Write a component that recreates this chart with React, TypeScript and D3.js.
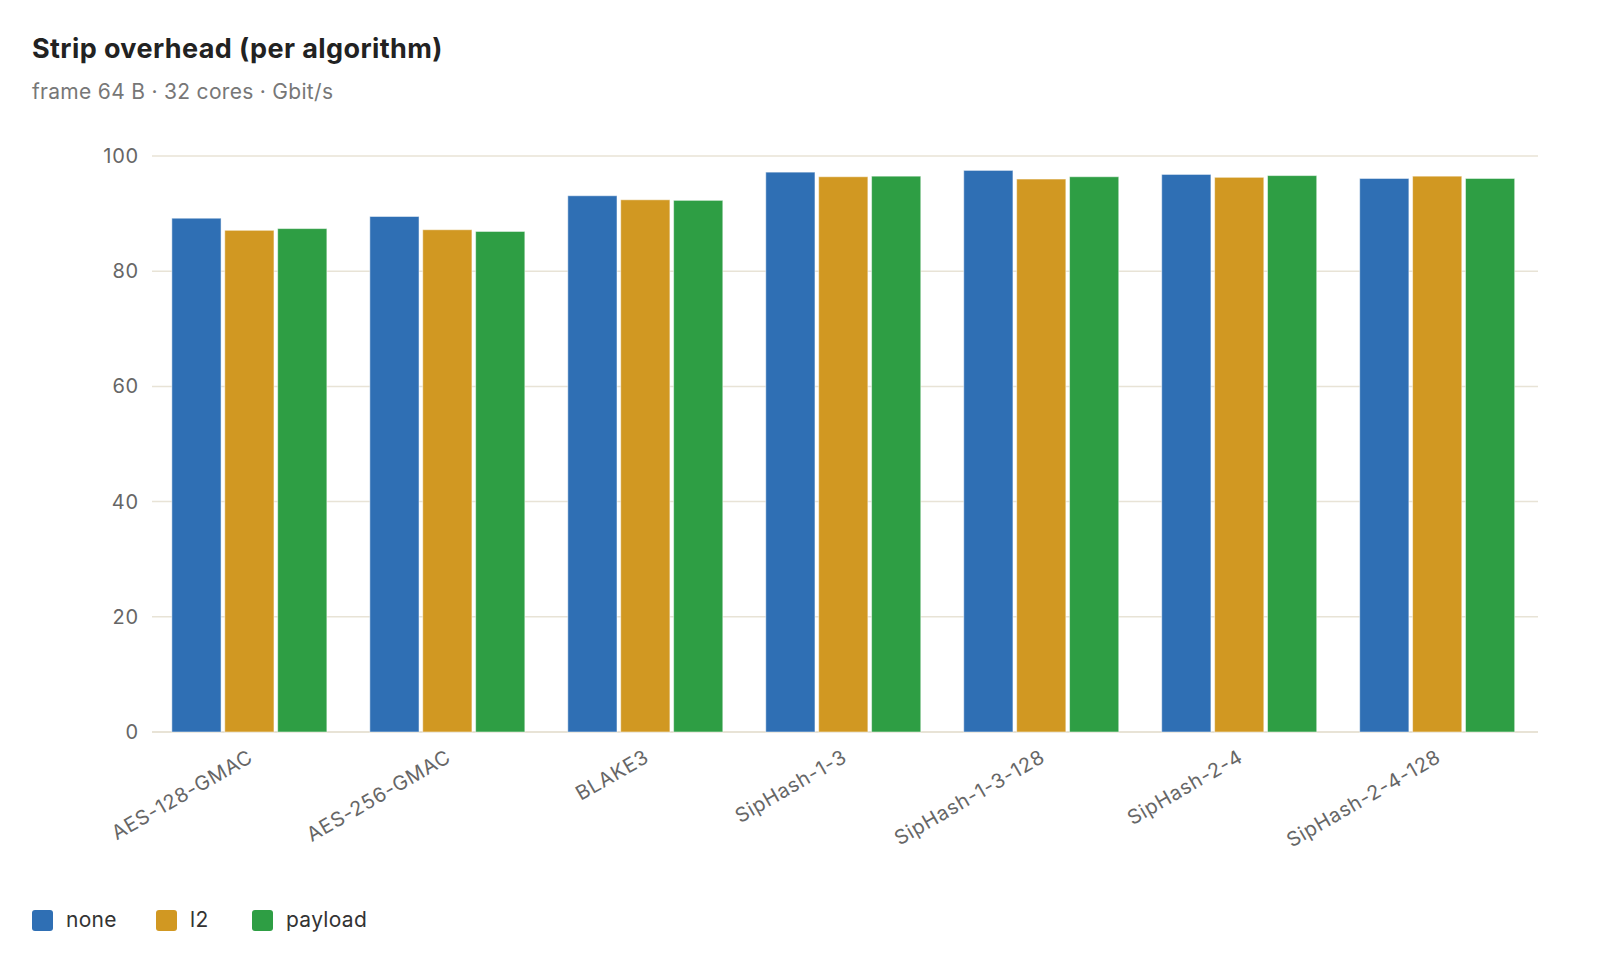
import { useEffect, useRef } from "react";
import * as d3 from "d3";

const algorithms = [
  "AES-128-GMAC",
  "AES-256-GMAC",
  "BLAKE3",
  "SipHash-1-3",
  "SipHash-1-3-128",
  "SipHash-2-4",
  "SipHash-2-4-128",
];
const seriesNames = ["none", "l2", "payload"];
const seriesColors = ["#2f6fb4", "#d19822", "#2e9e44"];

const noneValues = [89.2, 89.5, 93.1, 97.2, 97.5, 96.8, 96.1];
const l2Values = [87.1, 87.2, 92.4, 96.4, 96.0, 96.3, 96.5];
const payloadValues = [87.4, 86.9, 92.3, 96.5, 96.4, 96.6, 96.1];

const yTicks = [0, 20, 40, 60, 80, 100];

const width = 1598;
const height = 980;
const margin = { top: 156, right: 60, bottom: 248, left: 152 };
const font = "Inter, 'Noto Sans', sans-serif";

export default function App() {
  const svgRef = useRef<SVGSVGElement | null>(null);

  useEffect(() => {
    if (!svgRef.current) return;
    const svg = d3.select(svgRef.current);
    svg.selectAll("*").remove();

    const values = [noneValues, l2Values, payloadValues];
    const rows = algorithms.map((name, i) => ({
      name,
      vals: seriesNames.map((s, j) => ({ key: s, value: values[j][i] })),
    }));

    const x0 = d3
      .scaleBand<string>()
      .domain(algorithms)
      .range([margin.left, width - margin.right])
      .paddingInner(0.217)
      .paddingOuter(0.109)
      .align(0.46);
    const x1 = d3
      .scaleBand<string>()
      .domain(seriesNames)
      .range([0, x0.bandwidth()])
      .paddingInner(0.07);
    const y = d3
      .scaleLinear()
      .domain([0, 100])
      .range([height - margin.bottom, margin.top]);
    const color = d3.scaleOrdinal<string, string>().domain(seriesNames).range(seriesColors);

    // title block
    svg
      .append("text")
      .attr("x", 32)
      .attr("y", 58)
      .attr("font-family", font)
      .attr("font-size", 27)
      .attr("letter-spacing", 0.4)
      .attr("font-weight", 700)
      .attr("fill", "#222")
      .text("Strip overhead (per algorithm)");
    svg
      .append("text")
      .attr("x", 32)
      .attr("y", 99)
      .attr("font-family", font)
      .attr("font-size", 21)
      .attr("letter-spacing", 0.3)
      .attr("fill", "#777")
      .text("frame 64 B · 32 cores · Gbit/s");

    // grid + y labels
    const grid = svg.append("g");
    grid
      .selectAll("line")
      .data(yTicks)
      .enter()
      .append("line")
      .attr("x1", margin.left)
      .attr("x2", width - margin.right)
      .attr("y1", (d) => y(d))
      .attr("y2", (d) => y(d))
      .attr("stroke", "#e8e3d6")
      .attr("stroke-width", (d) => (d === 0 ? 2 : 1.5));
    grid
      .selectAll("text")
      .data(yTicks)
      .enter()
      .append("text")
      .attr("x", margin.left - 13)
      .attr("y", (d) => y(d))
      .attr("dy", "0.35em")
      .attr("text-anchor", "end")
      .attr("font-family", font)
      .attr("font-size", 20)
      .attr("letter-spacing", 0.8)
      .attr("fill", "#666")
      .text((d) => d);

    // bars
    const groups = svg
      .append("g")
      .selectAll("g")
      .data(rows)
      .enter()
      .append("g")
      .attr("transform", (d) => `translate(${x0(d.name)},0)`);
    groups
      .selectAll("rect")
      .data((d) => d.vals)
      .enter()
      .append("rect")
      .attr("x", (d) => x1(d.key)!)
      .attr("y", (d) => y(d.value))
      .attr("width", x1.bandwidth())
      .attr("height", (d) => y(0) - y(d.value))
      .attr("fill", (d) => color(d.key))
      .attr("stroke", "rgba(255,255,255,0.5)")
      .attr("stroke-width", 1);

    // x labels, slanted
    svg
      .append("g")
      .selectAll("text")
      .data(algorithms)
      .enter()
      .append("text")
      .attr(
        "transform",
        (d) => `translate(${x0(d)! + x0.bandwidth() / 2 + 5},${y(0) + 29}) rotate(-30)`
      )
      .attr("text-anchor", "end")
      .attr("font-family", font)
      .attr("font-size", 20)
      .attr("letter-spacing", 0.7)
      .attr("fill", "#666")
      .text((d) => d);

    // legend
    const legendX = [32, 156, 252];
    const legend = svg
      .append("g")
      .selectAll("g")
      .data(seriesNames)
      .enter()
      .append("g")
      .attr("transform", (_, i) => `translate(${legendX[i]},910)`);
    legend
      .append("rect")
      .attr("width", 21)
      .attr("height", 21)
      .attr("rx", 3)
      .attr("fill", (d) => color(d));
    legend
      .append("text")
      .attr("x", 34)
      .attr("y", 17)
      .attr("font-family", font)
      .attr("font-size", 21)
      .attr("letter-spacing", 0.3)
      .attr("fill", "#333")
      .text((d) => d);
  }, []);

  return (
    <svg
      ref={svgRef}
      width={width}
      height={height}
      style={{ position: "absolute", left: 0, top: 0, background: "#fff" }}
    />
  );
}
